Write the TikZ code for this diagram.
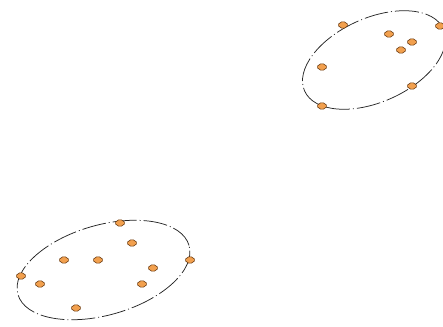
\documentclass[tikz,border=0pt]{standalone}
\usetikzlibrary{shapes.geometric}
\definecolor{dotfill}{HTML}{F2A04E}
\definecolor{dotline}{HTML}{6A3A10}
\tikzset{
  pt/.style={diamond, draw=dotline, fill=dotfill, line width=0.6pt, minimum width=12pt, minimum height=8.5pt, inner sep=0pt, rounded corners=1.8pt},
  cluster/.style={draw=black!85, line width=0.75pt, dash pattern=on 24pt off 3pt on 1pt off 3pt}
}
\begin{document}
\begin{tikzpicture}[x=1pt,y=1pt]
\useasboundingbox (0,0) rectangle (443,-326);
% clusters
\draw[cluster] (374,-60) ellipse[x radius=76, y radius=42, rotate=24];
\draw[cluster] (103.5,-270) ellipse[x radius=89, y radius=45, rotate=16];
% top cluster points
\node[pt] (t1) at (343,-25) {};
\node[pt] (t2) at (440,-26) {};
\node[pt] (t3) at (389,-34) {};
\node[pt] (t4) at (412,-42) {};
\node[pt] (t5) at (401,-50) {};
\node[pt] (t6) at (322,-67) {};
\node[pt] (t7) at (412,-86) {};
\node[pt] (t8) at (322,-106) {};
% bottom cluster points
\node[pt] (b1) at (120,-223) {};
\node[pt] (b2) at (132,-243) {};
\node[pt] (b3) at (64,-260) {};
\node[pt] (b4) at (98,-260) {};
\node[pt] (b5) at (190,-260) {};
\node[pt] (b6) at (153,-268) {};
\node[pt] (b7) at (21,-276) {};
\node[pt] (b8) at (40,-284) {};
\node[pt] (b9) at (142,-284) {};
\node[pt] (b10) at (76,-308) {};
\end{tikzpicture}
\end{document}
